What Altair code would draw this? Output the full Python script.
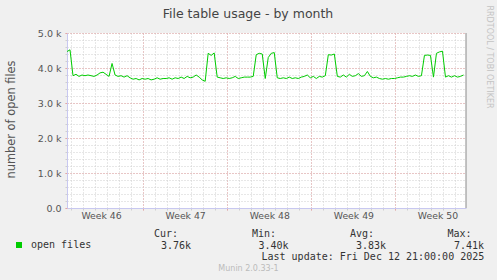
import altair as alt
import pandas as pd

# ---------------- data ----------------
start = "2025-11-09T16:00:00Z"
end = "2025-12-12T21:00:00Z"
step_hours = 6
open_files_k = [
    4.47, 4.52, 3.78, 3.82, 3.76, 3.80, 3.78, 3.80, 3.78, 3.76, 3.80, 3.86, 3.88, 3.82, 3.76, 4.13,
    3.80, 3.76, 3.78, 3.74, 3.78, 3.72, 3.68, 3.70, 3.66, 3.70, 3.68, 3.70, 3.66, 3.68, 3.72, 3.68,
    3.70, 3.70, 3.72, 3.68, 3.72, 3.70, 3.74, 3.70, 3.76, 3.72, 3.74, 3.80, 3.74, 3.66, 3.62, 4.42,
    4.36, 4.43, 3.74, 3.72, 3.70, 3.72, 3.70, 3.72, 3.76, 3.70, 3.72, 3.74, 3.74, 3.74, 3.76, 4.38,
    4.42, 4.40, 3.70, 4.30, 4.42, 4.44, 3.72, 3.70, 3.72, 3.70, 3.74, 3.70, 3.72, 3.70, 3.74, 3.76,
    3.80, 3.72, 3.76, 3.70, 3.76, 3.74, 3.78, 4.38, 4.37, 4.40, 3.76, 3.74, 3.80, 3.74, 3.82, 3.76,
    3.78, 3.84, 3.76, 3.78, 3.90, 3.76, 3.72, 3.74, 3.70, 3.68, 3.70, 3.68, 3.70, 3.70, 3.72, 3.74,
    3.74, 3.76, 3.78, 3.76, 3.80, 3.76, 3.78, 4.36, 4.37, 4.36, 3.74, 4.42, 4.46, 4.48, 3.74, 3.78,
    3.74, 3.78, 3.74, 3.76, 3.80,
]
series_name = "open files"
stat_names = ["Cur:", "Min:", "Avg:", "Max:"]
stat_values = ["3.76k", "3.40k", "3.83k", "7.41k"]
last_update = "Last update: Fri Dec 12 21:00:00 2025"
chart_title = "File table usage - by month"
y_title = "number of open files"
watermark = "RRDTOOL / TOBI OETIKER"
footer = "Munin 2.0.33-1"
y_max = 5000

# ---------------- helpers ----------------
def ms(ts):
    return int(pd.Timestamp(ts).value // 10**6)

t0 = pd.Timestamp(start)
times = [t0 + pd.Timedelta(hours=step_hours * i) for i in range(len(open_files_k))]
df = pd.DataFrame({
    "t": [t.strftime("%Y-%m-%dT%H:%M:%SZ") for t in times],
    "v": [v * 1000 for v in open_files_k],
    "series": series_name,
})

day_ticks = [ms(d) for d in pd.date_range("2025-11-10", "2025-12-12", freq="D", tz="UTC")]
week_ticks = [ms(d) for d in pd.date_range("2025-11-16", "2025-12-07", freq="7D", tz="UTC")]
week_label_ticks = [ms(d) for d in pd.date_range("2025-11-12 12:00", "2025-12-10 12:00", freq="7D", tz="UTC")]
minor_y = list(range(0, y_max + 1, 200))
major_y = list(range(0, y_max + 1, 1000))

xscale = alt.Scale(type="utc", domain=[ms(start), ms(end)])
yscale = alt.Scale(domain=[0, y_max], nice=False)

MINOR = "#CFCFCF"
MAJOR = "#E8A4A4"
AXISC = "#C8C8F0"
TXT = "#555555"
LEG = "#333333"
OX, OY = 67, 33  # plot origin in page pixels

minor = alt.Chart(df).mark_line(opacity=0).encode(
    x=alt.X("t:T", scale=xscale, title=None, axis=alt.Axis(
        orient="bottom", values=day_ticks, grid=True, gridColor=MINOR, gridDash=[1, 2],
        labels=False, ticks=True, tickSize=2, tickColor=MINOR, domain=False)),
    y=alt.Y("v:Q", scale=yscale, title=None, axis=alt.Axis(
        orient="left", values=minor_y, grid=True, gridColor=MINOR, gridDash=[1, 2],
        labels=False, ticks=True, tickSize=2, tickColor=MINOR, domain=False)),
)

major = alt.Chart(df).mark_line(opacity=0).encode(
    x=alt.X("t:T", scale=xscale, title=None, axis=alt.Axis(
        orient="bottom", values=week_ticks, grid=True, gridColor=MAJOR, gridDash=[1, 2],
        labels=False, ticks=True, tickSize=2, tickColor=MAJOR, domain=False)),
    y=alt.Y("v:Q", scale=yscale, title=y_title, axis=alt.Axis(
        orient="left", values=major_y, grid=True, gridColor=MAJOR, gridDash=[1, 2],
        ticks=True, tickSize=2, tickColor=MAJOR, domain=True, domainColor=AXISC,
        labelExpr="datum.value == 0 ? '0.0' : format(datum.value / 1000, '.1f') + ' k'",
        labelFont="DejaVu Sans", labelFontSize=9.5, labelColor=TXT, labelPadding=4,
        titleFont="DejaVu Sans", titleFontSize=11.4, titleFontWeight="normal", titleColor=TXT,
        titleX=-56, titleY=86, titleAngle=-90, titleAlign="center", titleBaseline="middle")),
)

week_labels = alt.Chart(df).mark_line(opacity=0).encode(
    x=alt.X("t:T", scale=xscale, title=None, axis=alt.Axis(
        orient="bottom", values=week_label_ticks, grid=False, ticks=False, tickSize=0,
        domain=True, domainColor=AXISC, labelPadding=3.5,
        labelExpr="'Week ' + utcFormat(datum.value, '%V')",
        labelFont="DejaVu Sans", labelFontSize=9.3, labelColor=TXT)),
    y=alt.Y("v:Q", scale=yscale, axis=None),
)

now_rule = alt.Chart(pd.DataFrame({"t": [end]})).mark_rule(color="#8A8A8A", strokeWidth=1).encode(
    x=alt.X("t:T", scale=xscale, axis=None),
)

line = alt.Chart(df).mark_line(strokeWidth=1).encode(
    x=alt.X("t:T", scale=xscale, axis=None),
    y=alt.Y("v:Q", scale=yscale, axis=None),
    color=alt.Color("series:N", scale=alt.Scale(range=["#00CC00"]), legend=alt.Legend(
        title=None, orient="none", legendX=14 - OX, legendY=240 - OY,
        symbolType="square", symbolSize=36, symbolFillColor="#00CC00", symbolStrokeWidth=0,
        labelFont="DejaVu Sans Mono", labelFontSize=10, labelColor=LEG, labelOffset=7,
        padding=0, symbolOffset=0)),
)


def text_layer(s, x, y, **kw):
    style = dict(font="DejaVu Sans Mono", fontSize=10, color=LEG, align="left", baseline="alphabetic")
    style.update(kw)
    return alt.Chart(pd.DataFrame({"s": [s]})).mark_text(**style).encode(
        text="s:N", x=alt.value(x - OX), y=alt.value(y - OY))


stat_cols = [154, 252, 350, 447.5]
value_cols = [161, 258.5, 356, 454]
texts = [text_layer(chart_title, 248, 13.5, font="DejaVu Sans", fontSize=12.5, color="#444444",
                    align="center", baseline="middle")]
for name, cx in zip(stat_names, stat_cols):
    texts.append(text_layer(name, cx, 237))
for val, cx in zip(stat_values, value_cols):
    texts.append(text_layer(val, cx, 249))
texts.append(text_layer(last_update, 261.5, 260))
texts.append(text_layer(footer, 248.5, 268.5, font="DejaVu Sans", fontSize=8, color="#BBBBBB",
                        align="center", baseline="middle"))
texts.append(text_layer(watermark, 489, 57, font="DejaVu Sans", fontSize=8, color="#C4C4C4",
                        align="center", baseline="middle", angle=90))

chart = alt.layer(minor, major, week_labels, now_rule, line, *texts).resolve_axis(
    x="independent", y="independent"
).properties(
    width=399, height=175,
    autosize=alt.AutoSizeParams(type="none"),
    padding={"left": OX, "top": OY, "right": 497 - OX - 399, "bottom": 280 - OY - 175},
    background="#F0F0F0",
).configure_view(fill="white", stroke=None)

chart.save("out.html", embed_options={"renderer": "svg", "actions": False})
